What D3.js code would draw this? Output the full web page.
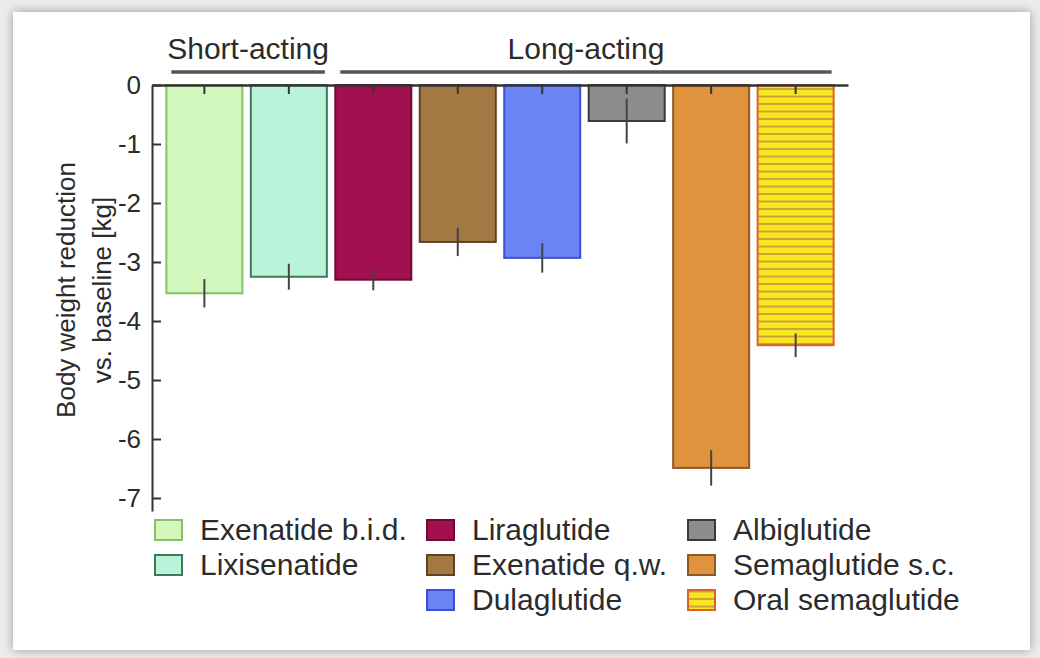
<!DOCTYPE html>
<html>
<head>
<meta charset="utf-8">
<script src="https://cdn.jsdelivr.net/npm/d3@7"></script>
<style>
	html, body { margin: 0; padding: 0; }
	body { width: 1040px; height: 658px; background: #ececec; position: relative; overflow: hidden; }
	#panel { position: absolute; left: 13px; top: 12px; width: 1017px; height: 638px; background: #fff; box-shadow: 0 0 10px rgba(0,0,0,0.35); }
	#chart { position: absolute; left: 0; top: 0; }
	text { font-family: "Liberation Sans", Arial, sans-serif; fill: #2b2b2b; }
</style>
</head>
<body>
<div id="panel"></div>
<div id="chart"></div>
<script>
// values (kg change vs. baseline)
const drugs = ["Exenatide b.i.d.", "Lixisenatide", "Liraglutide", "Exenatide q.w.",
	"Dulaglutide", "Albiglutide", "Semaglutide s.c.", "Oral semaglutide"];
const meanChange = [-3.53, -3.25, -3.3, -2.66, -2.93, -0.61, -6.49, -4.41];
const errChange = [0.24, 0.22, 0.18, 0.24, 0.25, 0.38, 0.3, 0.2];
const yTicks = [0, -1, -2, -3, -4, -5, -6, -7];
const groups = [
	{ name: "Short-acting", first: "Exenatide b.i.d.", last: "Lixisenatide" },
	{ name: "Long-acting", first: "Liraglutide", last: "Oral semaglutide" }
];
const legendColumns = [
	["Exenatide b.i.d.", "Lixisenatide"],
	["Liraglutide", "Exenatide q.w.", "Dulaglutide"],
	["Albiglutide", "Semaglutide s.c.", "Oral semaglutide"]
];

const fills = ["#d3f8bd", "#b9f3da", "#a3104f", "#a47843", "#6a85f3", "#8d8d8d", "#e0923c", "url(#hatch)"];
const strokes = ["#86c068", "#3d7a57", "#6e0a36", "#5e4122", "#3b50d4", "#3a3a3a", "#8c5a27", "#e0602a"];

const width = 1040, height = 658;

const svg = d3.select("#chart")
	.append("svg")
	.attr("width", width)
	.attr("height", height);

// horizontal stripes for the oral semaglutide bar
const pat = svg.append("defs").append("pattern")
	.attr("id", "hatch")
	.attr("patternUnits", "userSpaceOnUse")
	.attr("width", 10)
	.attr("height", 7.5);
pat.append("rect").attr("width", 10).attr("height", 7.5).attr("fill", "#f7e720");
pat.append("line")
	.attr("x1", 0).attr("x2", 10).attr("y1", 6.5).attr("y2", 6.5)
	.attr("stroke", "#c9923a").attr("stroke-width", 1.6);

let x = d3.scaleBand().domain(drugs).range([152, 848]).paddingInner(0.1).paddingOuter(0.17);
let y = d3.scaleLinear().domain([0, -7.22]).range([85, 85 + 7.22 * 59]);

// bars
svg.selectAll("rect.bar")
	.data(drugs)
	.enter().append("rect")
	.attr("class", "bar")
	.attr("x", d => x(d))
	.attr("width", x.bandwidth())
	.attr("y", y(0))
	.attr("height", (d, i) => y(meanChange[i]) - y(0))
	.style("fill", (d, i) => fills[i])
	.style("stroke", (d, i) => strokes[i])
	.style("stroke-width", "2px");

// error bars
svg.selectAll("line.err")
	.data(drugs)
	.enter().append("line")
	.attr("class", "err")
	.attr("x1", d => x(d) + x.bandwidth() / 2)
	.attr("x2", d => x(d) + x.bandwidth() / 2)
	.attr("y1", (d, i) => y(meanChange[i] + errChange[i]))
	.attr("y2", (d, i) => y(meanChange[i] - errChange[i]))
	.style("stroke", "#444")
	.style("stroke-width", "2px");

// y axis
let yAxis = d3.axisLeft(y)
	.tickValues(yTicks)
	.tickFormat(d => String(d))
	.tickSize(-9)
	.tickSizeOuter(0)
	.tickPadding(11);
let gy = svg.append("g")
	.attr("class", "y axis")
	.attr("transform", "translate(152,0)")
	.call(yAxis);
gy.select(".domain").style("stroke", "#333").style("stroke-width", "2px");
gy.selectAll(".tick line").style("stroke", "#333").style("stroke-width", "2px");
gy.selectAll(".tick text")
	.attr("font-size", 26)
	.attr("font-family", null)
	.style("fill", "#2b2b2b");

// zero line with category ticks
let xAxis = d3.axisTop(x).tickSize(-9).tickSizeOuter(0).tickFormat("");
let gx = svg.append("g")
	.attr("class", "x axis")
	.attr("transform", "translate(0," + y(0) + ")")
	.call(xAxis);
gx.select(".domain").style("stroke", "#333").style("stroke-width", "2.5px");
gx.selectAll(".tick line").style("stroke", "#333").style("stroke-width", "2px");

// y title
let title = svg.append("text")
	.attr("transform", "translate(0,290) rotate(-90)")
	.attr("text-anchor", "middle")
	.attr("font-size", 26);
title.append("tspan").attr("x", 0).attr("y", 75).text("Body weight reduction");
title.append("tspan").attr("x", 0).attr("y", 111).text("vs. baseline [kg]");

// group brackets
groups.forEach(g => {
	let x0 = x(g.first) + 5;
	let x1 = x(g.last) + x.bandwidth() - 2;
	svg.append("line")
		.attr("x1", x0).attr("x2", x1)
		.attr("y1", 72).attr("y2", 72)
		.style("stroke", "#555")
		.style("stroke-width", "3.5px");
	svg.append("text")
		.attr("x", (x0 + x1) / 2)
		.attr("y", 59)
		.attr("text-anchor", "middle")
		.attr("font-size", 30)
		.text(g.name);
});

// legend
const colX = [155, 427, 688];
legendColumns.forEach((col, c) => {
	col.forEach((name, r) => {
		let i = drugs.indexOf(name);
		let top = 520 + r * 35;
		svg.append("rect")
			.attr("x", colX[c]).attr("y", top)
			.attr("width", 27).attr("height", 20)
			.style("fill", fills[i])
			.style("stroke", strokes[i])
			.style("stroke-width", "2px");
		svg.append("text")
			.attr("x", colX[c] + 45)
			.attr("y", top + 20)
			.attr("font-size", 30)
			.text(name);
	});
});
</script>
</body>
</html>
